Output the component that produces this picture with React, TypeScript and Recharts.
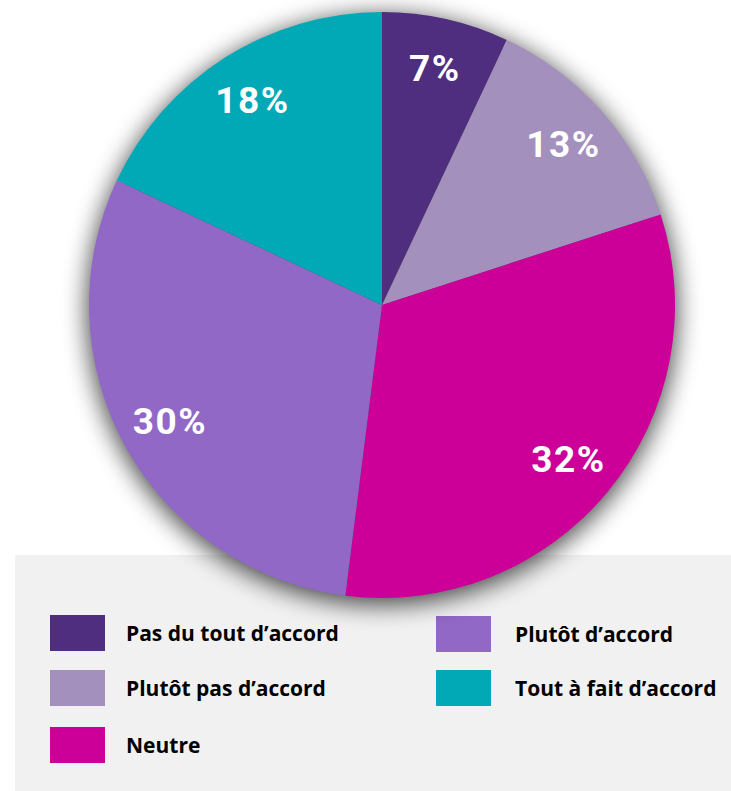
import React from "react"
import { PieChart, Pie, Cell } from "recharts"

const categories = [
  "Pas du tout d’accord",
  "Plutôt pas d’accord",
  "Neutre",
  "Plutôt d’accord",
  "Tout à fait d’accord",
]
const values = [7, 13, 32, 30, 18]
const colors = ["#4f2d7f", "#a390bc", "#cc0099", "#9168c6", "#00a9b5"]

const data = categories.map((name, i) => ({ name, value: values[i] }))

const RADIAN = Math.PI / 180

function renderLabel(props: any) {
  const { cx, cy, midAngle, value } = props
  const r = 242
  const x = cx + r * Math.cos(-midAngle * RADIAN)
  const y = cy + r * Math.sin(-midAngle * RADIAN)
  return (
    <text
      x={x}
      y={y}
      fill="#fff"
      textAnchor="middle"
      dominantBaseline="central"
      style={{ fontFamily: "Roboto, sans-serif", fontWeight: 700, fontSize: 37, letterSpacing: 1.5 }}
    >
      {`${value}%`}
    </text>
  )
}

// legend: first 3 items left column, rest right column
const legendCols = [
  { swatchX: 50, textX: 126, rows: [615, 670, 727] },
  { swatchX: 436, textX: 515, rows: [616, 670] },
]

const pieProps = {
  data,
  dataKey: "value",
  cx: 382,
  outerRadius: 293,
  startAngle: 90,
  endAngle: -270,
  stroke: "none",
  isAnimationActive: false,
}

export default function App() {
  const items = data.map((d, i) => {
    const col = i < 3 ? legendCols[0] : legendCols[1]
    const row = i < 3 ? i : i - 3
    return { ...d, color: colors[i], col, top: col.rows[row] }
  })

  return (
    <div
      style={{
        position: "fixed",
        left: 0,
        top: 0,
        width: 731,
        height: 791,
        background: "#fff",
        overflow: "hidden",
        fontFamily: "'Open Sans', sans-serif",
      }}
    >
      <div
        style={{
          position: "absolute",
          left: 15,
          top: 555,
          width: 716,
          height: 236,
          background: "#f1f1f1",
        }}
      />
      {items.map((it) => (
        <React.Fragment key={it.name}>
          <div
            style={{
              position: "absolute",
              left: it.col.swatchX,
              top: it.top,
              width: 55,
              height: 36,
              background: it.color,
            }}
          />
          <div
            style={{
              position: "absolute",
              left: it.col.textX,
              top: it.top,
              height: 36,
              lineHeight: "36px",
              fontSize: 21,
              fontWeight: 700,
              color: "#000",
              whiteSpace: "nowrap",
            }}
          >
            {it.name}
          </div>
        </React.Fragment>
      ))}
      {/* drop shadow under the pie */}
      <div style={{ position: "absolute", left: 0, top: 0, filter: "blur(12px)", opacity: 0.7 }}>
        <PieChart width={731} height={791} margin={{ top: 0, right: 0, bottom: 0, left: 0 }}>
          <Pie {...pieProps} cy={310} outerRadius={295}>
            {data.map((d) => (
              <Cell key={d.name} fill="#000" />
            ))}
          </Pie>
        </PieChart>
      </div>
      <div style={{ position: "absolute", left: 0, top: 0 }}>
        <PieChart width={731} height={791} margin={{ top: 0, right: 0, bottom: 0, left: 0 }}>
          <Pie {...pieProps} nameKey="name" cy={305} label={renderLabel} labelLine={false}>
            {data.map((d, i) => (
              <Cell key={d.name} fill={colors[i]} />
            ))}
          </Pie>
        </PieChart>
      </div>
    </div>
  )
}
